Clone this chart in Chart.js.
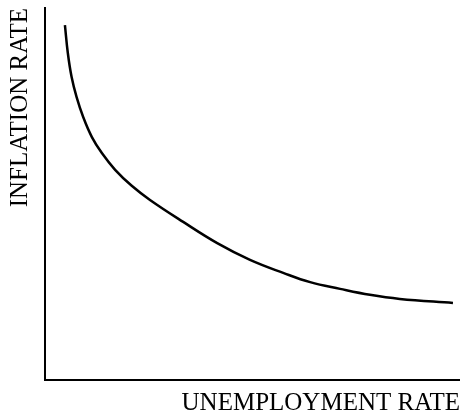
<!DOCTYPE html>
<html>
<head>
<meta charset="utf-8">
<script src="https://cdn.jsdelivr.net/npm/chart.js@4/dist/chart.umd.min.js"></script>
<style>
  html, body { margin: 0; padding: 0; background: #fff; }
  #c { display: block; }
</style>
</head>
<body>
<canvas id="c" width="460" height="416"></canvas>
<script>
// Phillips curve values (arbitrary 0-100 units)
const unemployment = [4.8, 5.5, 6.4, 7.6, 9.2, 11.3, 13.7, 16.9, 20.9, 25.3, 33.3, 41.5, 49.4, 57.4, 63.9, 71.1, 78.3, 85.5, 98.3];
const inflation    = [95.4, 87.9, 81.5, 76.1, 70.7, 65.3, 61.0, 56.5, 52.2, 48.4, 42.5, 36.8, 32.3, 28.8, 26.3, 24.5, 22.9, 21.8, 20.7];
const xTitle = 'UNEMPLOYMENT RATE';
const yTitle = 'INFLATION RATE';

const points = unemployment.map((x, i) => ({ x: x, y: inflation[i] }));
const serif = "'Liberation Serif', 'Times New Roman', serif";

new Chart(document.getElementById('c'), {
  type: 'scatter',
  data: {
    datasets: [{
      data: points,
      showLine: true,
      borderColor: '#000',
      borderWidth: 2.5,
      pointRadius: 0,
      tension: 0.4,
      fill: false
    }]
  },
  options: {
    responsive: false,
    animation: false,
    layout: { padding: { top: 8, right: 0, bottom: 0, left: 0 } },
    plugins: { legend: { display: false }, tooltip: { enabled: false } },
    scales: {
      x: {
        type: 'linear', min: 0, max: 100,
        grid: { display: false },
        border: { display: true, color: '#000', width: 2 },
        ticks: { display: false },
        title: {
          display: true, text: xTitle, align: 'end', color: '#000',
          font: { family: serif, size: 25, lineHeight: 1 },
          padding: { top: 0, bottom: 0 }
        },
        afterFit: s => { s.height = 36; }
      },
      y: {
        type: 'linear', min: 0, max: 100,
        grid: { display: false },
        border: { display: true, color: '#000', width: 2 },
        ticks: { display: false },
        title: {
          display: true, text: yTitle, align: 'end', color: '#000',
          font: { family: serif, size: 25, lineHeight: 1 },
          padding: { top: 8, bottom: 0 }
        },
        afterFit: s => { s.width = 45; }
      }
    }
  }
});
</script>
</body>
</html>
